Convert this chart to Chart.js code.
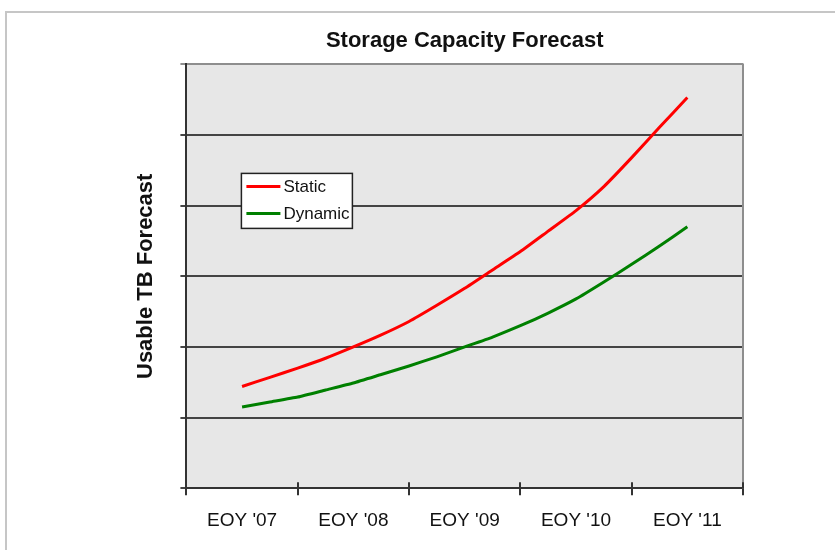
<!DOCTYPE html>
<html>
<head>
<meta charset="utf-8">
<title>Storage Capacity Forecast</title>
<script src="https://cdn.jsdelivr.net/npm/chart.js@4"></script>
<style>
  html, body { margin: 0; padding: 0; background: #fff; }
  body { width: 835px; height: 550px; position: relative; overflow: hidden; }
  #frame {
    position: absolute; left: 5px; top: 11px; right: -4px; bottom: -4px;
    border-left: 2px solid #c6c6c6; border-top: 2px solid #c6c6c6;
  }
  #wrap { position: absolute; left: 88px; top: 0; width: 747px; height: 550px; }
</style>
</head>
<body>
<div id="frame"></div>
<div id="wrap"><canvas id="forecastChart" width="747" height="550"></canvas></div>
<script>
const categories = ["EOY '07", "EOY '08", "EOY '09", "EOY '10", "EOY '11"];
// quarter steps, measured in years from EOY '07
const quarters = [0, 0.25, 0.5, 0.75, 1, 1.25, 1.5, 1.75, 2, 2.25, 2.5, 2.75, 3, 3.25, 3.5, 3.75, 4];
// usable TB (x10)
const staticTB = [14.4, 15.7, 17.0, 18.4, 20.0, 21.7, 23.6, 25.9, 28.3, 30.9, 33.5, 36.4, 39.3, 42.7, 46.8, 51.1, 55.3];
const dynamicTB = [11.5, 12.2, 12.9, 13.9, 14.9, 16.1, 17.3, 18.6, 20.0, 21.4, 23.0, 24.8, 26.8, 29.2, 31.7, 34.3, 37.0];
const yMax = 60;
const yStep = 10;

const FONT = "'Liberation Sans', Arial, Helvetica, sans-serif";

function toPoints(values) {
  return quarters.map((q, i) => ({ x: q, y: values[i] }));
}

// plot background, right border, cross ticks and the boxed legend
const plotFrame = {
  id: "plotFrame",
  beforeDraw(chart) {
    const { ctx, chartArea: a } = chart;
    ctx.save();
    ctx.fillStyle = "#e7e7e7";
    ctx.fillRect(a.left, a.top, a.right - a.left, a.bottom - a.top);
    ctx.restore();
  },
  afterDraw(chart) {
    const { ctx, chartArea: a } = chart;
    ctx.save();
    ctx.strokeStyle = "#8e8e8e";
    ctx.lineWidth = 2;
    ctx.beginPath();
    ctx.moveTo(a.right, a.top - 1);
    ctx.lineTo(a.right, a.bottom);
    ctx.stroke();

    // x tick marks cross the axis line
    ctx.strokeStyle = "#333";
    const step = (a.right - a.left) / categories.length;
    for (let i = 0; i <= categories.length; i++) {
      const x = Math.round(a.left + i * step);
      ctx.beginPath();
      ctx.moveTo(x, a.bottom - 6);
      ctx.lineTo(x, a.bottom);
      ctx.stroke();
    }

    // legend
    const bx = a.left + 55, by = a.top + 109, bw = 111, bh = 55;
    ctx.fillStyle = "#fff";
    ctx.fillRect(bx, by, bw, bh);
    ctx.strokeStyle = "#222";
    ctx.lineWidth = 1.5;
    ctx.strokeRect(bx, by, bw, bh);
    ctx.font = "17px " + FONT;
    ctx.textBaseline = "middle";
    chart.data.datasets.forEach((ds, i) => {
      const y = by + 13 + i * 27;
      ctx.strokeStyle = ds.borderColor;
      ctx.lineWidth = 3;
      ctx.beginPath();
      ctx.moveTo(bx + 5, y);
      ctx.lineTo(bx + 39, y);
      ctx.stroke();
      ctx.fillStyle = "#111";
      ctx.fillText(ds.label, bx + 42, y + 1);
    });
    ctx.restore();
  }
};

const ctx = document.getElementById("forecastChart").getContext("2d");

new Chart(ctx, {
  type: "line",
  data: {
    labels: categories,
    datasets: [
      {
        label: "Static",
        data: toPoints(staticTB),
        xAxisID: "q",
        borderColor: "#ff0000",
        borderWidth: 3,
        pointRadius: 0,
        tension: 0.15
      },
      {
        label: "Dynamic",
        data: toPoints(dynamicTB),
        xAxisID: "q",
        borderColor: "#008000",
        borderWidth: 3,
        pointRadius: 0,
        tension: 0.15
      }
    ]
  },
  options: {
    responsive: false,
    animation: false,
    devicePixelRatio: 1,
    layout: { padding: { left: 40, right: 92, top: 0, bottom: 4 } },
    scales: {
      x: {
        type: "category",
        offset: true,
        grid: {
          offset: true,
          drawOnChartArea: false,
          tickLength: 7,
          color: "#333",
          lineWidth: 2
        },
        border: { color: "#333", width: 2 },
        ticks: {
          color: "#111",
          maxRotation: 0,
          padding: 14,
          font: { family: FONT, size: 19 }
        }
      },
      q: {
        type: "linear",
        display: false,
        min: -0.5,
        max: categories.length - 0.5
      },
      y: {
        min: 0,
        max: yMax,
        ticks: { display: false, stepSize: yStep },
        grid: {
          color: (c) => (c.tick && c.tick.value === yMax ? "#8e8e8e" : "#444"),
          lineWidth: 2,
          tickLength: 6
        },
        border: { color: "#333", width: 2 },
        title: {
          display: true,
          text: "Usable TB Forecast",
          color: "#111",
          font: { family: FONT, size: 22, weight: "bold" },
          padding: { top: 5, bottom: 21 }
        }
      }
    },
    plugins: {
      legend: { display: false },
      tooltip: { enabled: false },
      title: {
        display: true,
        fullSize: false,
        text: "Storage Capacity Forecast",
        color: "#111",
        font: { family: FONT, size: 22, weight: "bold" },
        padding: { top: 28, bottom: 10 }
      }
    }
  },
  plugins: [plotFrame]
});
</script>
</body>
</html>
